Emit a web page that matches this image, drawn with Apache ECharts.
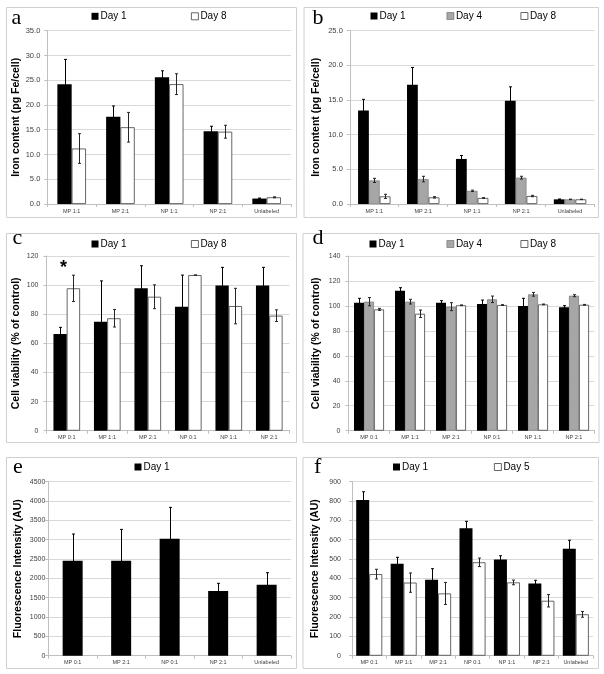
<!DOCTYPE html>
<html><head><meta charset="utf-8">
<script src="https://cdn.jsdelivr.net/npm/echarts@6/dist/echarts.min.js"></script>
<style>html,body{margin:0;padding:0;background:#fff}#c{width:604px;height:674px}</style>
</head><body><div id="c"></div>
<script>
// ---- Panel a: iron content, two time points ----
const catsA = ['MP 1:1', 'MP 2:1', 'NP 1:1', 'NP 2:1', 'Unlabeled'];
const aDay1 = [24.2, 17.6, 25.6, 14.7, 1.1];
const aDay1Err = [5.0, 2.2, 1.3, 1.0, 0.1];
const aDay8 = [11.2, 15.5, 24.2, 14.6, 1.35];
const aDay8Err = [3.0, 3.0, 2.1, 1.3, 0.1];

// ---- Panel b: iron content, three time points ----
const catsB = ['MP 1:1', 'MP 2:1', 'NP 1:1', 'NP 2:1', 'Unlabeled'];
const bDay1 = [13.5, 17.2, 6.5, 14.9, 0.67];
const bDay1Err = [1.6, 2.5, 0.5, 2.0, 0.05];
const bDay4 = [3.4, 3.6, 1.9, 3.8, 0.67];
const bDay4Err = [0.3, 0.4, 0.1, 0.2, 0.03];
const bDay8 = [1.1, 0.96, 0.87, 1.15, 0.67];
const bDay8Err = [0.3, 0.1, 0.05, 0.1, 0.03];

// ---- Panel c: cell viability, two time points ----
const catsC = ['MP 0:1', 'MP 1:1', 'MP 2:1', 'NP 0:1', 'NP 1:1', 'NP 2:1'];
const cDay1 = [66.4, 74.9, 97.8, 85.2, 99.7, 99.7];
const cDay1Err = [4.6, 28, 15.5, 21.7, 12.5, 12.5];
const cDay8 = [97.8, 77.2, 92.0, 106.9, 85.6, 79.0];
const cDay8Err = [9, 6, 8.2, 0, 12.2, 4];
const cStarValue = 112; // asterisk above MP 0:1

// ---- Panel d: cell viability, three time points ----
const catsD = ['MP 0:1', 'MP 1:1', 'MP 2:1', 'NP 0:1', 'NP 1:1', 'NP 2:1'];
const dDay1 = [102.6, 112.2, 102.6, 101.5, 99.9, 98.9];
const dDay1Err = [3.5, 2.4, 1.6, 3.2, 6.2, 1.3];
const dDay4 = [103.4, 103.4, 99.4, 105.3, 109.3, 108.2];
const dDay4Err = [3.3, 1.9, 3.2, 2.6, 1.5, 0.8];
const dDay8 = [97.2, 93.7, 100.5, 100.7, 101.2, 100.9];
const dDay8Err = [0.8, 3.0, 0.3, 0.3, 0.3, 0.3];

// ---- Panel e: fluorescence, day 1 ----
const catsE = ['MP 0:1', 'MP 2:1', 'NP 0:1', 'NP 2:1', 'Unlabeled'];
const eDay1 = [2457, 2457, 3026, 1672, 1836];
const eDay1Err = [690, 810, 810, 200, 311];

// ---- Panel f: fluorescence, day 1 and day 5 ----
const catsF = ['MP 0:1', 'MP 1:1', 'MP 2:1', 'NP 0:1', 'NP 1:1', 'NP 2:1', 'Unlabeled'];
const fDay1 = [805, 476, 393, 659, 497, 374, 553];
const fDay1Err = [43, 33, 57, 36, 20, 16, 44];
const fDay5 = [422, 378, 322, 483, 379, 284, 214];
const fDay5Err = [25, 50, 57, 22, 12, 32, 15];

const FONT = 'Liberation Sans';
const STY = {
  black: {color: '#000000', borderColor: '#000000', borderWidth: 0},
  gray: {color: '#a6a6a6', borderColor: '#808080', borderWidth: 0.8},
  white: {color: '#ffffff', borderColor: '#404040', borderWidth: 0.8}
};

const panels = [
  {letter: 'a', lx: 11.5, ly: 25, cats: catsA, max: 35, interval: 5, dec: 1, tfs: 7.5,
   title: 'Iron content (pg Fe/cell)', nameGap: 26, labelMargin: 7,
   grid: {left: 47.3, top: 30.7, width: 243.7, height: 173.3}, barWidth: 14.3,
   box: [6, 7, 290, 210],
   series: [{name: 'Day 1', v: aDay1, e: aDay1Err, s: 'black', lg: [91.5, 17.3]},
            {name: 'Day 8', v: aDay8, e: aDay8Err, s: 'white', lg: [191, 17.3]}]},
  {letter: 'b', lx: 312.5, ly: 25, cats: catsB, max: 25, interval: 5, dec: 1, tfs: 7.5,
   title: 'Iron content (pg Fe/cell)', nameGap: 28, labelMargin: 7,
   grid: {left: 349.8, top: 30.7, width: 244.7, height: 173.3}, barWidth: 10.8,
   box: [303.5, 7, 294.5, 210],
   series: [{name: 'Day 1', v: bDay1, e: bDay1Err, s: 'black', lg: [370.5, 17]},
            {name: 'Day 4', v: bDay4, e: bDay4Err, s: 'gray', lg: [446.5, 17]},
            {name: 'Day 8', v: bDay8, e: bDay8Err, s: 'white', lg: [520.5, 17]}]},
  {letter: 'c', lx: 12.5, ly: 245, cats: catsC, max: 120, interval: 20, dec: 0, tfs: 7,
   title: 'Cell viability (% of control)', nameGap: 25, labelMargin: 8,
   grid: {left: 46.5, top: 256, width: 243, height: 174.7}, barWidth: 13.3,
   box: [6, 233, 290, 209], star: true,
   series: [{name: 'Day 1', v: cDay1, e: cDay1Err, s: 'black', lg: [91.5, 245]},
            {name: 'Day 8', v: cDay8, e: cDay8Err, s: 'white', lg: [191, 245]}]},
  {letter: 'd', lx: 312.5, ly: 245, cats: catsD, max: 140, interval: 20, dec: 0, tfs: 7,
   title: 'Cell viability (% of control)', nameGap: 27, labelMargin: 8,
   grid: {left: 348.5, top: 256, width: 246, height: 174.7}, barWidth: 10,
   box: [302.5, 233, 296, 209],
   series: [{name: 'Day 1', v: dDay1, e: dDay1Err, s: 'black', lg: [369.5, 245]},
            {name: 'Day 4', v: dDay4, e: dDay4Err, s: 'gray', lg: [446.5, 245]},
            {name: 'Day 8', v: dDay8, e: dDay8Err, s: 'white', lg: [520.5, 245]}]},
  {letter: 'e', lx: 13, ly: 474, cats: catsE, max: 4500, interval: 500, dec: 0, tfs: 7,
   title: 'Fluorescence Intensity (AU)', nameGap: 25, labelMargin: 3,
   grid: {left: 48.4, top: 481.7, width: 242.5, height: 174}, barWidth: 20,
   box: [6, 457, 290, 211],
   series: [{name: 'Day 1', v: eDay1, e: eDay1Err, s: 'black', lg: [134.5, 468]}]},
  {letter: 'f', lx: 314, ly: 474, cats: catsF, max: 900, interval: 100, dec: 0, tfs: 7,
   title: 'Fluorescence Intensity (AU)', nameGap: 31, labelMargin: 11,
   grid: {left: 352, top: 481.7, width: 241, height: 174}, barWidth: 13,
   box: [302.5, 457, 295.5, 211],
   series: [{name: 'Day 1', v: fDay1, e: fDay1Err, s: 'black', lg: [393, 468]},
            {name: 'Day 5', v: fDay5, e: fDay5Err, s: 'white', lg: [494, 468]}]}
];

const grids = [], xAxes = [], yAxes = [], series = [], legends = [], graphics = [];

panels.forEach((p, pi) => {
  grids.push(Object.assign({containLabel: false}, p.grid));
  xAxes.push({
    type: 'category', gridIndex: pi, data: p.cats,
    axisLine: {show: true, lineStyle: {color: '#bfbfbf', width: 1}},
    axisTick: {show: true, length: 3, lineStyle: {color: '#bfbfbf'}},
    axisLabel: {fontSize: 5.5, color: '#404040', fontFamily: FONT, margin: 4, interval: 0},
    splitLine: {show: false}
  });
  yAxes.push({
    type: 'value', gridIndex: pi, min: 0, max: p.max, interval: p.interval,
    name: p.title, nameLocation: 'middle', nameGap: p.nameGap,
    nameTextStyle: {fontSize: 10.5, fontWeight: 'bold', fontFamily: FONT, color: '#000'},
    axisLine: {show: true, lineStyle: {color: '#bfbfbf', width: 1}},
    axisTick: {show: true, length: 3, lineStyle: {color: '#bfbfbf'}},
    axisLabel: {fontSize: p.tfs, color: '#404040', fontFamily: FONT, margin: p.labelMargin,
      formatter: v => v.toFixed(p.dec)},
    splitLine: {show: true, lineStyle: {color: '#d9d9d9', width: 1}}
  });
  const n = p.series.length;
  p.series.forEach((s, si) => {
    const st = STY[s.s];
    const bar = {
      type: 'bar', name: s.name, xAxisIndex: pi, yAxisIndex: pi,
      data: s.v, barWidth: p.barWidth, barGap: '0%',
      itemStyle: Object.assign({}, st), emphasis: {disabled: true}, silent: true, z: 2
    };
    if (p.star && s.name === 'Day 8') {
      bar.markPoint = {
        symbol: 'circle', symbolSize: 1, itemStyle: {color: 'rgba(0,0,0,0)'}, silent: true,
        label: {show: true, position: 'inside', formatter: '*', fontSize: 18, fontWeight: 'bold',
          color: '#000', fontFamily: FONT, offset: [-10, 0]},
        data: [{coord: [p.cats[0], cStarValue]}]
      };
    }
    series.push(bar);
    const offset = (si - (n - 1) / 2) * p.barWidth;
    const errColor = s.s === 'black' ? '#000000' : '#262626';
    series.push({
      type: 'custom', name: 'err-' + p.letter + si, xAxisIndex: pi, yAxisIndex: pi, z: 5, silent: true,
      data: s.v.map((v, i) => [i, v, s.e[i]]),
      encode: {x: 0, y: 1},
      renderItem: (params, api) => {
        const i = api.value(0), v = api.value(1), e = api.value(2);
        const t = api.coord([i, v + e]);
        const b = api.coord([i, v - e]);
        const x = Math.round(t[0] + offset) + 0.5;
        const cap = 1.5;
        const ls = {stroke: errColor, lineWidth: 1};
        return {type: 'group', children: [
          {type: 'line', shape: {x1: x, y1: t[1], x2: x, y2: b[1]}, style: ls},
          {type: 'line', shape: {x1: x - cap, y1: t[1], x2: x + cap, y2: t[1]}, style: ls},
          {type: 'line', shape: {x1: x - cap, y1: b[1], x2: x + cap, y2: b[1]}, style: ls}
        ]};
      }
    });
    legends.push({
      left: s.lg[0], top: s.lg[1] - 6, padding: 0, itemWidth: 7, itemHeight: 7, itemGap: 0,
      icon: 'rect', selectedMode: false,
      textStyle: {fontSize: 10, fontFamily: FONT, color: '#000', padding: [0, 0, 0, -3]},
      data: [{name: s.name, itemStyle: Object.assign({}, st)}]
    });
  });
  graphics.push({
    type: 'rect', silent: true, z: -1,
    shape: {x: p.box[0] + 0.5, y: p.box[1] + 0.5, width: p.box[2], height: p.box[3]},
    style: {fill: 'none', stroke: '#d0d0d0', lineWidth: 1}
  });
  graphics.push({
    type: 'text', silent: true, left: p.lx, top: p.ly - 18,
    style: {text: p.letter, fontSize: 22, fontFamily: 'Liberation Serif', fill: '#000'}
  });
});

const chart = echarts.init(document.getElementById('c'), null, {renderer: 'canvas'});
chart.setOption({
  animation: false,
  backgroundColor: '#ffffff',
  grid: grids, xAxis: xAxes, yAxis: yAxes, series: series, legend: legends,
  graphic: graphics
});
</script>
</body></html>
